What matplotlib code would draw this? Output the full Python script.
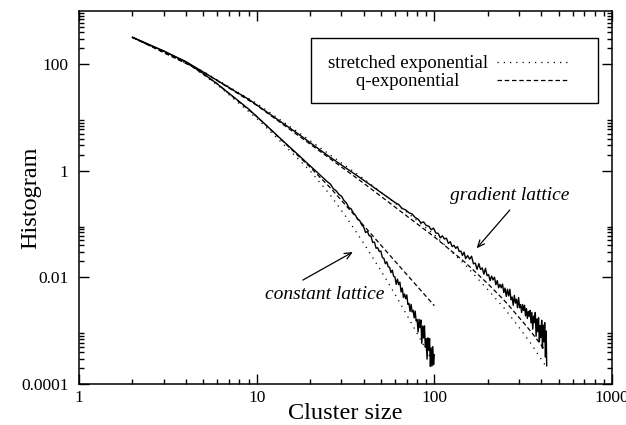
import matplotlib
matplotlib.use("Agg")
import matplotlib.pyplot as plt
from matplotlib.ticker import FixedLocator, FixedFormatter, NullFormatter
from matplotlib.lines import Line2D
from matplotlib.patches import Rectangle

# ---------------- data ----------------
# constant lattice histogram, cluster sizes 2..100
const_x = list(range(2, 101))
const_y = [320, 177, 110, 67.1, 42.9, 28.4, 19.9, 14.5, 10.5, 7.85, 5.98, 4.66,
           3.71, 3.00, 2.47, 2.05, 1.72, 1.45, 1.24, 1.07, 0.929, 0.805, 0.710, 0.624,
           0.566, 0.463, 0.424, 0.363, 0.336, 0.278, 0.250, 0.204, 0.194, 0.162,
           0.147, 0.123, 0.117, 0.0975, 0.0887,
           0.0697, 0.0728, 0.0604, 0.0595, 0.0452, 0.0462, 0.0353, 0.0361, 0.0307,
           0.0312, 0.0236, 0.0228, 0.0181, 0.0197, 0.0158, 0.0155, 0.0123, 0.0137,
           0.0105, 0.0102,
           0.00741, 0.00931, 0.00733, 0.00813, 0.00532, 0.00633, 0.00420, 0.00489,
           0.00399, 0.00470, 0.00311, 0.00325, 0.00230, 0.00311, 0.00226, 0.00241,
           0.00174, 0.00234, 0.00153, 0.00162,
           0.000945, 0.00164, 0.00114, 0.00159, 0.000581, 0.00123, 0.000731, 0.00123,
           0.00049, 0.000705, 0.000293, 0.000734, 0.000429, 0.00071, 0.000214,
           0.000476, 0.000217, 0.000504, 0.00023, 0.000353]

# gradient lattice histogram
grad_x = ([2, 3, 4, 5, 6, 7, 8, 9, 10, 12, 14, 16, 18, 20, 23, 26, 30, 35, 40, 45, 50, 55, 60]
          + list(range(63, 150, 3)) + list(range(150, 430, 4)) + [429])
grad_y = [320, 177, 112, 71.8, 49.7, 36.5, 27.9, 22.1, 17.3, 11.3, 7.9, 5.8, 4.38,
          3.38, 2.40, 1.79, 1.29, 0.908, 0.668, 0.506, 0.394, 0.315, 0.255,
          0.233, 0.196, 0.185, 0.163, 0.155, 0.133, 0.124, 0.106, 0.110, 0.0944,
          0.0916, 0.0785, 0.0841,
          0.0679, 0.0674, 0.0553, 0.0604, 0.0526, 0.0546, 0.0435, 0.0468, 0.0378,
          0.0400, 0.0351, 0.0380, 0.0306, 0.0313, 0.0258, 0.0298,
          0.0225, 0.0257, 0.0220, 0.0250, 0.0180, 0.0186, 0.0142, 0.0182, 0.0141,
          0.0151, 0.0115, 0.0148, 0.0108, 0.0113, 0.0087, 0.0106, 0.0090, 0.0101,
          0.0073, 0.0087, 0.0064, 0.0074, 0.0064, 0.0075, 0.0052,
          0.0063, 0.0044, 0.0060, 0.0045, 0.0060, 0.0038, 0.0043, 0.0030, 0.0046,
          0.0033, 0.0039, 0.0027, 0.0042, 0.0027, 0.0031, 0.0022, 0.0031, 0.0024,
          0.0030, 0.0019, 0.0026, 0.0017, 0.0023, 0.00186, 0.0024,
          0.0014, 0.0022, 0.00107, 0.00187, 0.00142, 0.0022, 0.00079, 0.00166,
          0.00096, 0.00175, 0.00062, 0.00124, 0.00075, 0.00157, 0.00047, 0.00127,
          0.00062, 0.00142, 0.00032, 0.00099,
          0.00022]

# fits
const_str_x = [2, 4, 6, 10, 14, 20, 26, 32, 40, 50, 62, 78, 90, 100]
const_str_y = [321, 110, 41.0, 9.66, 3.26, 1.00, 0.350, 0.134, 0.0440, 0.01346,
               0.00404, 0.00104, 0.000436, 0.000224]
const_q_x = [2, 4, 6, 10, 14, 20, 26, 32, 40, 50, 62, 78, 100]
const_q_y = [321, 110, 42.9, 10.5, 3.63, 1.17, 0.479, 0.219, 0.0942, 0.0405,
             0.0179, 0.00753, 0.00295]
grad_fit_x = [2, 5, 10, 20, 40, 70, 100, 150, 200, 250, 300, 350, 400, 430]
grad_str_y = [320, 73.3, 18.5, 3.69, 0.713, 0.168, 0.0630, 0.0169, 0.00589,
              0.00254, 0.00115, 0.000571, 0.000291, 0.000203]
grad_q_y = [320, 71.8, 17.0, 3.17, 0.587, 0.142, 0.0577, 0.0188, 0.00762,
            0.00358, 0.00177, 0.000962, 0.000533, 0.000388]

x_ticks = [1, 10, 100, 1000]
x_tick_labels = ['1', '10', '100', '1000']
y_ticks = [1e-4, 1e-2, 1, 100]
y_tick_labels = ['0.0001', '0.01', '1', '100']

# ---------------- style ----------------
plt.rcParams['font.family'] = ['Liberation Serif', 'DejaVu Serif']

DOT = (0, (1, 4))
DASH = (0, (3.6, 2.2))
LW = 0.9

fig = plt.figure(figsize=(6.26, 4.25), dpi=100)
ax = fig.add_axes([79 / 626, 1 - 384 / 425, 533 / 626, 373 / 425])
ax.set_xscale('log')
ax.set_yscale('log')

ax.plot(const_str_x, const_str_y, color='black', lw=LW, ls=DOT)
ax.plot(const_q_x, const_q_y, color='black', lw=LW, ls=DASH)
ax.plot(grad_fit_x, grad_str_y, color='black', lw=LW, ls=DOT)
ax.plot(grad_fit_x, grad_q_y, color='black', lw=LW, ls=DASH)
ax.plot(const_x, const_y, color='black', lw=1.0)
ax.plot(grad_x, grad_y, color='black', lw=1.0)

ax.set_xlim(1, 1000)
ax.set_ylim(1e-4, 1e3)

ax.xaxis.set_major_locator(FixedLocator(x_ticks))
ax.xaxis.set_major_formatter(FixedFormatter(x_tick_labels))
ax.xaxis.set_minor_locator(FixedLocator([k * m for m in (1, 10, 100) for k in range(2, 10)]))
ax.xaxis.set_minor_formatter(NullFormatter())
ax.yaxis.set_major_locator(FixedLocator(y_ticks))
ax.yaxis.set_major_formatter(FixedFormatter(y_tick_labels))
ax.yaxis.set_minor_locator(FixedLocator([k * m for m in y_ticks for k in range(2, 10)]))
ax.yaxis.set_minor_formatter(NullFormatter())

ax.tick_params(which='both', direction='in', top=True, right=True, width=1.0)
ax.tick_params(which='major', length=7.2)
ax.tick_params(which='minor', length=3.6)
ax.tick_params(axis='x', pad=4, labelsize=12.5)
ax.tick_params(axis='y', pad=7.5, labelsize=12.5)
for s in ax.spines.values():
    s.set_linewidth(1.1)

ax.set_xlabel('Cluster size', fontsize=17.5)
ax.xaxis.set_label_coords(0.5, -0.05)
ax.set_ylabel('Histogram', fontsize=17.5)
ax.yaxis.set_label_coords(-0.071, 0.5)

# annotations
ax.text(266, 0.352, 'gradient lattice', style='italic', fontsize=14,
        ha='center', va='center')
ax.annotate('', xy=(173, 0.0352), xytext=(266, 0.184),
            arrowprops=dict(arrowstyle='->,head_length=0.5,head_width=0.22',
                            lw=0.9, color='black', shrinkA=0, shrinkB=0))
ax.text(24.2, 0.00468, 'constant lattice', style='italic', fontsize=14,
        ha='center', va='center')
ax.annotate('', xy=(34.8, 0.030), xytext=(18.2, 0.00893),
            arrowprops=dict(arrowstyle='->,head_length=0.5,head_width=0.22',
                            lw=0.9, color='black', shrinkA=0, shrinkB=0))

# legend (text left of sample lines, inside a rectangular frame)
handles = [Line2D([], [], color='black', lw=LW, ls=DOT),
           Line2D([], [], color='black', lw=LW, ls=DASH)]
labels = ['stretched exponential', 'q-exponential' + ' ' * 6]
ax.legend(handles, labels, loc='center', bbox_to_anchor=(0.691, 0.835),
          frameon=False, markerfirst=False, handlelength=3.7, handletextpad=0.5,
          labelspacing=0.05, fontsize=13.5, borderpad=0, borderaxespad=0)
ax.add_patch(Rectangle((0.435, 0.753), 0.539, 0.175, transform=ax.transAxes,
                       fill=False, ec='black', lw=1.0, zorder=5))

fig.savefig('out.png', dpi=100)
